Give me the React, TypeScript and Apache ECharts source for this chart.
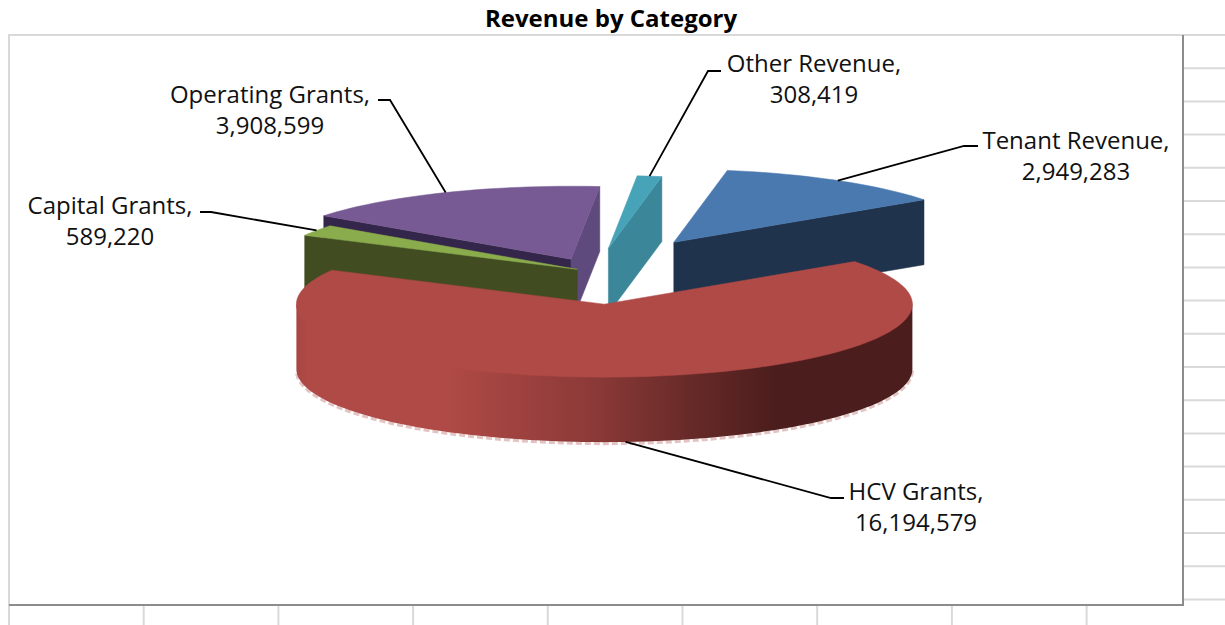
import React, { useEffect, useRef } from "react";
import * as echarts from "echarts";

const categories = ["Tenant Revenue", "HCV Grants", "Capital Grants", "Operating Grants", "Other Revenue"];
const values = [2949283, 16194579, 589220, 3908599, 308419];
const valueLabels = ["2,949,283", "16,194,579", "589,220", "3,908,599", "308,419"];
const explode = [148, 136, 21, 59, 100];
const drawOrder = [4, 0, 3, 2, 1];
const topColors = ["#4a79b0", "#b04a46", "#8aac4d", "#775a93", "#46a3b8"];
const startWallColors = ["#20334d", "#4b1d1c", "#414c20", "#34264a", "#3b8698"];
const endWallColors = ["#20334d", "#4b1d1c", "#414c20", "#5f4a7d", "#3b8698"];
const labelCentres = [[1076, 155], [916, 506], [110, 220], [270, 109], [814, 78]];
const leaderElbows = [[[964, 146], [978, 146]], [[831, 498], [844, 498]], [[211, 212], [200, 212]], [[390, 100], [378, 100]], [[708, 71], [721, 71]]];

const CX = 595, CY = 272, RX = 308, RY = 73, DEPTH = 65, START = 10;
const total = values.reduce((a, b) => a + b, 0);
const rad = (d: number) => (d * Math.PI) / 180;

function sliceAngles(i: number) {
  let a = START;
  for (let k = 0; k < i; k++) a += (values[k] / total) * 360;
  return [a, a + (values[i] / total) * 360];
}
function arc(ax: number, ay: number, a: number, b: number, dy = 0) {
  const pts: number[][] = [];
  const n = Math.max(2, Math.ceil((b - a) / 2));
  for (let k = 0; k <= n; k++) {
    const t = rad(a + ((b - a) * k) / n);
    pts.push([ax + RX * Math.sin(t), ay - RY * Math.cos(t) + dy]);
  }
  return pts;
}

function renderItem(_params: any, api: any) {
  const i = api.value(0);
  const [a, b] = sliceAngles(i);
  const mid = rad((a + b) / 2);
  const ax = CX + explode[i] * Math.sin(mid);
  const ay = CY - (explode[i] * RY * Math.cos(mid)) / RX;
  const end = (t: number) => {
    const r = rad(t);
    return [ax + RX * Math.sin(r), ay - RY * Math.cos(r)];
  };
  const children: any[] = [];
  const wall = (t: number, fill: string) => {
    const p = end(t);
    children.push({
      type: "polygon",
      shape: { points: [[ax, ay], p, [p[0], p[1] + DEPTH], [ax, ay + DEPTH]] },
      style: { fill, stroke: fill, lineWidth: 0.5 },
    });
  };
  if (Math.sin(rad(a)) < 0) wall(a, startWallColors[i]);
  if (Math.sin(rad(b)) > 0) wall(b, endWallColors[i]);

  const from = Math.max(a, 90), to = Math.min(b, 270);
  if (to > from) {
    const upper = arc(ax, ay, from, to, -3);
    const lower = arc(ax, ay, from, to, DEPTH);
    children.push({
      type: "polyline",
      shape: { points: arc(ax, ay, from, to, DEPTH + 1.5) },
      style: { fill: "none", stroke: "#e3c4c3", lineWidth: 3, lineDash: [6, 3] },
    });
    children.push({
      type: "polygon",
      shape: { points: upper.concat(lower.reverse()) },
      style: {
        fill: new echarts.graphic.LinearGradient(1, 0, 0, 0, [
          { offset: 0, color: "#4b1d1c" },
          { offset: 0.22, color: "#4b1d1c" },
          { offset: 0.36, color: "#672a28" },
          { offset: 0.52, color: "#8c3a38" },
          { offset: 0.76, color: "#b04a46" },
          { offset: 0.98, color: "#b04a46" },
          { offset: 1, color: "#a84643" },
        ]),
      },
    });
  }
  children.push({
    type: "polygon",
    shape: { points: [[ax, ay], ...arc(ax, ay, a, b)] },
    style: { fill: topColors[i], stroke: topColors[i], lineWidth: 0.5 },
  });

  const isFront = Math.cos(mid) < 0;
  const anchor = [ax + RX * Math.sin(mid), ay - RY * Math.cos(mid) + (isFront ? DEPTH : 0)];
  children.push({
    type: "polyline",
    shape: { points: [anchor, ...leaderElbows[i]] },
    style: { fill: "none", stroke: "#000000", lineWidth: 1.8 },
    z2: 50,
  });
  children.push({
    type: "text",
    style: {
      text: `${categories[i]},\n${valueLabels[i]}`,
      x: labelCentres[i][0],
      y: labelCentres[i][1],
      align: "center",
      verticalAlign: "middle",
      lineHeight: 31,
      fill: "#111111",
      font: '24px "Open Sans", sans-serif',
    },
    z2: 50,
  });
  return { type: "group", children };
}

const line = (x1: number, y1: number, x2: number, y2: number, stroke: string) => ({
  type: "line",
  shape: { x1, y1, x2, y2 },
  style: { stroke, lineWidth: 2 },
});

function frame() {
  const out: any[] = [];
  for (let k = 1; k <= 17; k++) {
    const y = 35 + k * 33.2;
    out.push(line(1183, y, 1225, y, "#d9d9d9"));
  }
  for (let k = 0; k <= 8; k++) {
    const x = 9 + k * 134.7;
    out.push(line(x, 605, x, 625, "#d9d9d9"));
  }
  out.push(line(8, 35, 1225, 35, "#d9d9d9"));
  out.push(line(9, 35, 9, 605, "#d9d9d9"));
  out.push(line(1183, 35, 1183, 606, "#8c8c8c"));
  out.push(line(9, 605, 1183, 605, "#8c8c8c"));
  return out;
}

export default function App() {
  const ref = useRef<HTMLDivElement>(null);
  useEffect(() => {
    const chart = echarts.init(ref.current!, null, { renderer: "svg" });
    chart.setOption({
      animation: false,
      backgroundColor: "#ffffff",
      title: {
        text: "Revenue by Category",
        left: 606,
        top: 0,
        textAlign: "center",
        textStyle: { fontFamily: '"Open Sans", sans-serif', fontWeight: "bold", fontSize: 24, color: "#000000" },
      },
      graphic: frame(),
      series: [
        {
          type: "custom",
          coordinateSystem: "none",
          renderItem,
          data: drawOrder.map((i) => [i, values[i]]),
        },
      ],
    });
    return () => chart.dispose();
  }, []);
  return <div ref={ref} style={{ position: "fixed", left: 0, top: 0, width: 1225, height: 625 }} />;
}
